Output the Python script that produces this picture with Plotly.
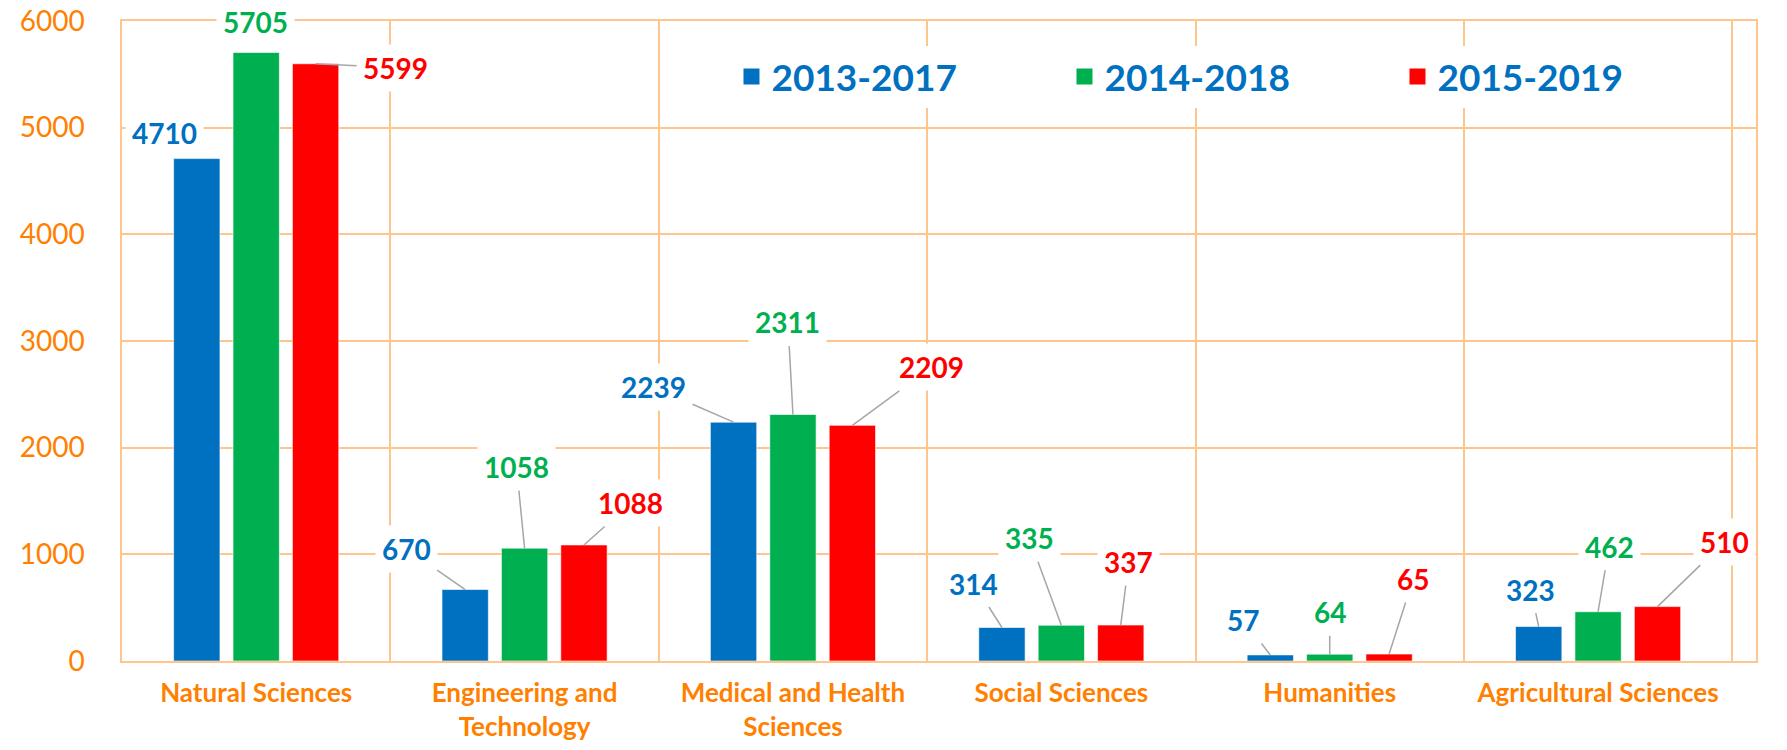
"""
Publications by field of science, three five-year windows
Grouped bar chart with callout data labels
"""

import plotly.graph_objects as go

# Data
categories = [
    "Natural Sciences",
    "Engineering and<br>Technology",
    "Medical and Health<br>Sciences",
    "Social Sciences",
    "Humanities",
    "Agricultural Sciences",
]
periods = ["2013-2017", "2014-2018", "2015-2019"]
values_2013_2017 = [4710, 670, 2239, 314, 57, 323]
values_2014_2018 = [5705, 1058, 2311, 335, 64, 462]
values_2015_2019 = [5599, 1088, 2209, 337, 65, 510]
y_ticks = [0, 1000, 2000, 3000, 4000, 5000, 6000]

# Style
BAR_COLORS = ["#0070C0", "#00B050", "#FF0000"]
ORANGE = "#FF8000"
GRID = "#FFC58F"
LEADER = "#A6A6A6"
FONT = "Lato"
BARGAP = 0.336
BARGROUPGAP = 0.22

# label offsets from the top of each bar (pixels), one row per period
label_dx = [
    [-32, -59, -80, -28, -27, -8],
    [-1, -8, -5, -32, 0, 11],
    [80, 47, 79, 8, 24, 67],
]
label_dy = [
    [-26, -41, -35, -44, -35, -37],
    [-30, -81, -92, -87, -42, -65],
    [4, -42, -58, -63, -75, -65],
]
# labels drawn without a leader line
no_leader = {(0, 0), (1, 0)}


def build_figure():
    series = [values_2013_2017, values_2014_2018, values_2015_2019]
    fig = go.Figure()

    for k, (name, vals) in enumerate(zip(periods, series)):
        fig.add_trace(go.Bar(
            x=categories,
            y=vals,
            name=name,
            showlegend=False,
            marker=dict(color=BAR_COLORS[k], line=dict(color="rgba(255,255,255,0.6)", width=1)),
            hoverinfo="x+y+name",
        ))

    # legend entries with a bigger square swatch than the bar default
    for k, name in enumerate(periods):
        fig.add_trace(go.Scatter(
            x=[None],
            y=[None],
            mode="markers",
            name=name,
            marker=dict(symbol="square", size=16, color=BAR_COLORS[k]),
            showlegend=True,
        ))

    # callout labels, anchored on the bar tops
    slot = (1 - BARGAP) / 3
    for k, vals in enumerate(series):
        for i, v in enumerate(vals):
            fig.add_annotation(
                x=i + (k - 1) * slot,
                y=v,
                xref="x",
                yref="y",
                text=str(v),
                showarrow=True,
                arrowhead=0,
                arrowwidth=1.5,
                arrowcolor="rgba(0,0,0,0)" if (k, i) in no_leader else LEADER,
                ax=label_dx[k][i],
                ay=label_dy[k][i],
                standoff=0,
                bgcolor="white",
                borderpad=6,
                font=dict(family=FONT, size=28, color=BAR_COLORS[k], weight="bold"),
            )

    # the page body adds an 8px margin, so the figure is 16px smaller than the window
    fig.update_layout(
        width=1771,
        height=734,
        margin=dict(l=114, r=23, t=13, b=81),
        paper_bgcolor="white",
        plot_bgcolor="white",
        barmode="group",
        bargap=BARGAP,
        bargroupgap=BARGROUPGAP,
        font=dict(family=FONT, color=ORANGE),
        showlegend=True,
        legend=dict(
            orientation="h",
            x=0.373,
            xanchor="left",
            y=0.961,
            yanchor="top",
            bgcolor="white",
            entrywidth=288,
            entrywidthmode="pixels",
            itemsizing="trace",
            font=dict(family=FONT, size=37, color="#0070C0", weight="bold"),
            traceorder="normal",
        ),
    )

    fig.update_xaxes(
        type="category",
        tickson="boundaries",
        showgrid=True,
        gridcolor=GRID,
        gridwidth=1.5,
        showline=True,
        linecolor=GRID,
        linewidth=1.5,
        mirror=True,
        ticks="",
        automargin=False,
        ticklabeloverflow="allow",
        ticklabelstandoff=8,
        tickfont=dict(family=FONT, size=26, color=ORANGE, weight="bold"),
    )

    fig.update_yaxes(
        range=[0, 6000],
        tickvals=y_ticks,
        showgrid=True,
        gridcolor=GRID,
        gridwidth=1.5,
        zeroline=False,
        showline=True,
        linecolor=GRID,
        linewidth=1.5,
        mirror=True,
        ticks="",
        automargin=False,
        ticklabeloverflow="allow",
        ticklabelstandoff=30,
        tickfont=dict(family=FONT, size=28, color=ORANGE),
    )

    return fig


def main():
    fig = build_figure()
    fig.write_html("out.html")
    return fig


if __name__ == "__main__":
    main()
